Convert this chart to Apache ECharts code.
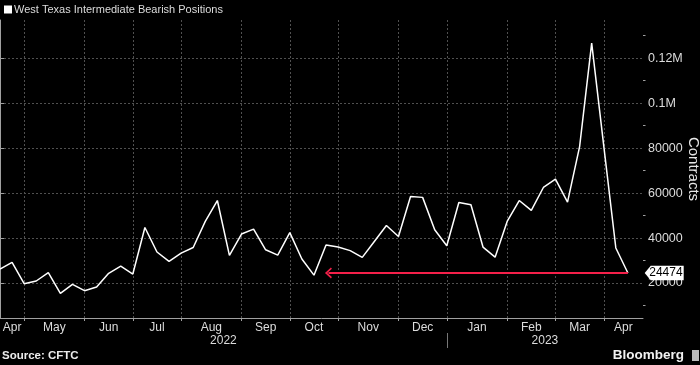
<!DOCTYPE html>
<html><head><meta charset="utf-8">
<script src="https://cdn.jsdelivr.net/npm/echarts@6/dist/echarts.min.js"></script>
<style>html,body{margin:0;padding:0;background:#000}#c{width:700px;height:365px}</style>
</head><body><div id="c"></div>
<script>
const seriesName = 'West Texas Intermediate Bearish Positions';
const weeks = [
  '2022-04-19','2022-04-26',
  '2022-05-03','2022-05-10','2022-05-17','2022-05-24','2022-05-31',
  '2022-06-07','2022-06-14','2022-06-21','2022-06-28',
  '2022-07-05','2022-07-12','2022-07-19','2022-07-26',
  '2022-08-02','2022-08-09','2022-08-16','2022-08-23','2022-08-30',
  '2022-09-06','2022-09-13','2022-09-20','2022-09-27',
  '2022-10-04','2022-10-11','2022-10-18','2022-10-25',
  '2022-11-01','2022-11-08','2022-11-15','2022-11-22','2022-11-29',
  '2022-12-06','2022-12-13','2022-12-20','2022-12-27',
  '2023-01-03','2023-01-10','2023-01-17','2023-01-24','2023-01-31',
  '2023-02-07','2023-02-14','2023-02-21','2023-02-28',
  '2023-03-07','2023-03-14','2023-03-21','2023-03-28',
  '2023-04-04','2023-04-11','2023-04-18'
];
const positions = [
  26200, 29200, 19700, 20900, 24600, 15400, 19400, 16600, 18200, 24300,
  27500, 24000, 44700, 33800, 29600, 33300, 35800, 47400, 56700, 32300,
  41800, 44000, 34800, 32400, 42400, 30700, 23500, 36900, 36000, 34400,
  31400, 38500, 45600, 40700, 58500, 58100, 43700, 36600, 55800, 54800,
  36000, 31500, 47400, 56700, 52300, 62500, 66200, 56000, 80700, 126700,
  81000, 35600, 24474
];
const yTicks = [20000, 40000, 60000, 80000, 100000, 120000];
const yMinorTicks = [10000, 30000, 50000, 70000, 90000, 110000, 130000];
const monthNames = ['Jan','Feb','Mar','Apr','May','Jun','Jul','Aug','Sep','Oct','Nov','Dec'];
const lastValue = 24474;
const arrowStartWeek = 27.2;

const xMin = 0, xMax = 53.25, yMin = 4444, yMax = 137000;
const axisGrey = '#a0a0a0', gridGrey = '#505050', textGrey = '#dcdcdc';
const gridLeft = 0, gridRight = 57;
const plotWidth = 700 - gridLeft - gridRight;

// month and year segments from the weekly dates
const segs = [];
const years = [];
weeks.forEach((w, i) => {
  const y = w.slice(0, 4), m = parseInt(w.slice(5, 7), 10);
  const prev = segs[segs.length - 1];
  if (!prev || prev.m !== m) segs.push({ m, y, start: i === 0 ? xMin : i });
  const py = years[years.length - 1];
  if (!py || py.y !== y) years.push({ y, start: i === 0 ? xMin : i });
});
const monthStarts = segs.slice(1).map(s => s.start);
const monthLabelMap = {};
const monthLabelPos = segs.map((s, k) => {
  const end = k + 1 < segs.length ? segs[k + 1].start : xMax;
  const p = (s.start + end) / 2;
  monthLabelMap[p.toFixed(3)] = monthNames[s.m - 1];
  return p;
});
const yearStarts = years.slice(1).map(s => s.start);
const yearLabelMap = {};
const yearLabelPos = years.map((s, k) => {
  const end = k + 1 < years.length ? years[k + 1].start : xMax;
  const p = (s.start + end) / 2;
  yearLabelMap[p.toFixed(3)] = s.y;
  return p;
});

const data = positions.map((v, i) => [i, v]);
const lastIdx = positions.length - 1;

const chart = echarts.init(document.getElementById('c'));
chart.setOption({
  backgroundColor: '#000',
  animation: false,
  textStyle: { fontFamily: 'Liberation Sans' },
  legend: {
    left: 4, top: 4, padding: 0, itemWidth: 8, itemHeight: 8, icon: 'rect',
    textStyle: { color: textGrey, fontSize: 11, padding: [0, 0, 0, -3] },
    data: [seriesName]
  },
  title: [
    { text: 'Source: CFTC', left: 2, bottom: 3, padding: 0,
      textStyle: { color: '#ececec', fontSize: 11.5, fontWeight: 'bold' } },
    { text: 'Bloomberg', right: 16, bottom: 3, padding: 0,
      textStyle: { color: '#f2f2f2', fontSize: 13.5, fontWeight: 'bold' } }
  ],
  graphic: [
    { type: 'rect', right: 1, bottom: 4, shape: { width: 7, height: 11 }, style: { fill: '#bbbbbb' } }
  ],
  grid: { left: gridLeft, right: gridRight, top: 20, bottom: 47, containLabel: false, outerBoundsMode: 'none' },
  xAxis: [
    {
      type: 'value', min: xMin, max: xMax, position: 'bottom',
      axisLine: { show: true, onZero: false, lineStyle: { color: axisGrey, width: 1 } },
      axisTick: { show: true, customValues: monthStarts, length: 3, lineStyle: { color: axisGrey } },
      axisLabel: { customValues: monthLabelPos, color: textGrey, fontSize: 12, margin: 4,
        formatter: v => monthLabelMap[v.toFixed(3)] || '' },
      splitLine: { show: true, lineStyle: { color: gridGrey, type: [2, 2] } }
    },
    {
      type: 'value', min: xMin, max: xMax, position: 'bottom', offset: 15,
      axisLine: { show: false, onZero: false },
      axisTick: { show: true, customValues: yearStarts, length: 15, lineStyle: { color: '#777' } },
      axisLabel: { customValues: yearLabelPos, color: textGrey, fontSize: 12, margin: 2,
        formatter: v => yearLabelMap[v.toFixed(3)] || '' },
      splitLine: { show: false }
    }
  ],
  yAxis: [
    {
      type: 'value', position: 'right', min: yMin, max: yMax,
      name: 'Contracts', nameLocation: 'middle', nameRotate: -90, nameGap: 43, nameMoveOverlap: false,
      nameTextStyle: { color: '#e6e6e6', fontSize: 15 },
      axisLine: { show: true, lineStyle: { color: axisGrey } },
      axisTick: { show: true, customValues: yTicks, length: 4, lineStyle: { color: axisGrey } },
      axisLabel: { customValues: yTicks, color: textGrey, fontSize: 12.5, margin: 5,
        formatter: v => v >= 100000 ? (v / 1e6) + 'M' : String(v) },
      splitLine: { show: true, lineStyle: { color: gridGrey, type: [2, 2] } }
    },
    {
      type: 'value', position: 'left', offset: -plotWidth, min: yMin, max: yMax,
      axisLine: { show: false },
      axisTick: { show: true, inside: true, customValues: yMinorTicks, length: 2.5, lineStyle: { color: axisGrey } },
      axisLabel: { show: false },
      splitLine: { show: false }
    }
  ],
  series: [{
    type: 'line', name: seriesName, data: data, symbol: 'none',
    lineStyle: { color: '#ffffff', width: 1.5 }, itemStyle: { color: '#ffffff' },
    markLine: {
      silent: true, animation: false, label: { show: false },
      lineStyle: { color: '#f5204a', width: 2, type: 'solid' },
      data: [[
        { coord: [arrowStartWeek, lastValue], symbol: 'path://M5.5,0 L11,6 L9.6,7 L5.5,2.4 L1.4,7 L0,6 Z', symbolSize: [11, 7] },
        { coord: [lastIdx, lastValue], symbol: 'none' }
      ]]
    },
    markPoint: {
      silent: true, animation: false,
      symbol: 'path://M0,7 L6,0 L39,0 L39,14 L6,14 Z', symbolSize: [39, 14.5], symbolOffset: [36.3, 0],
      itemStyle: { color: '#ffffff' },
      label: { show: true, color: '#000', fontSize: 12, offset: [1.7, 0], formatter: '{c}' },
      data: [{ coord: [lastIdx, lastValue], value: lastValue }]
    }
  }]
});
</script></body></html>
